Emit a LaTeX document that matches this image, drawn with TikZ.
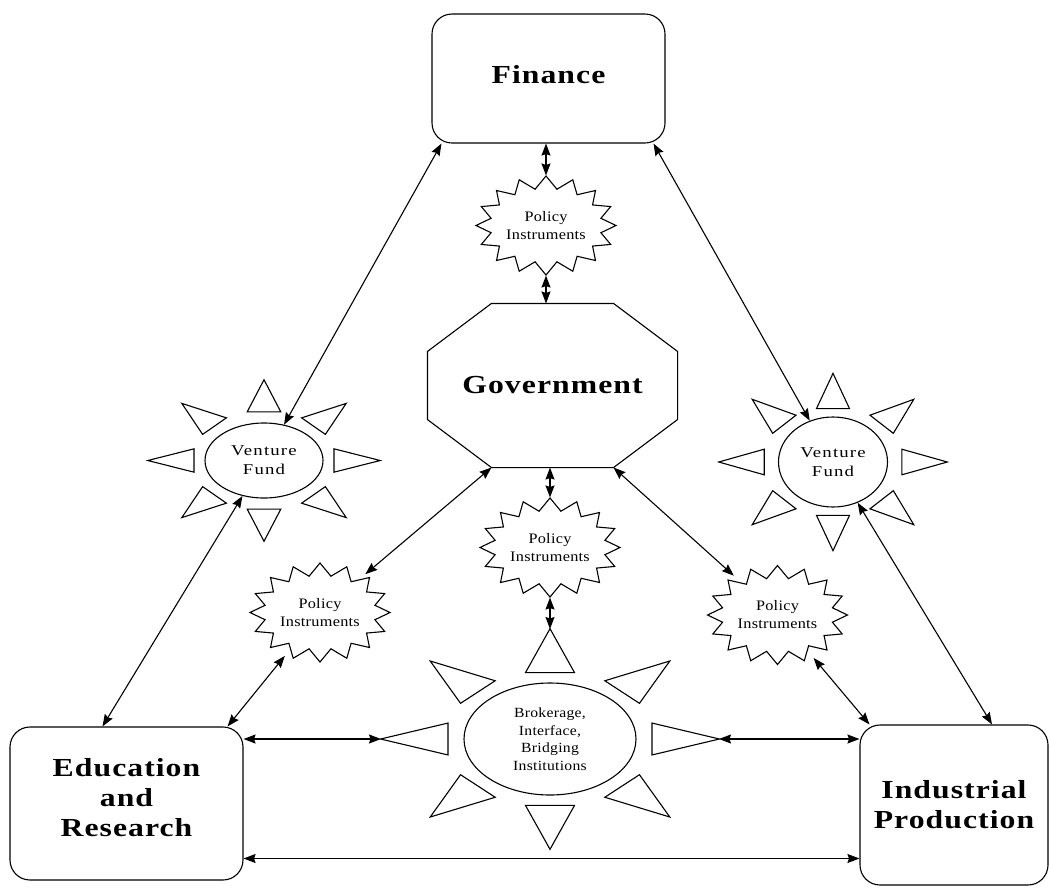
\documentclass[tikz,border=0pt]{standalone}
\usepackage{fontspec}
\setmainfont{Liberation Serif}
\newfontfamily\boxfont[FakeStretch=1.22,LetterSpace=4]{Liberation Serif}
\newfontfamily\policyfont[FakeStretch=1.12,LetterSpace=2]{Liberation Serif}
\newfontfamily\fundfont[FakeStretch=1.25,LetterSpace=8]{Liberation Serif}
\usetikzlibrary{shapes.geometric,arrows.meta}

% eight triangles round an ellipse
\newcommand{\sunrays}[3]{%
  \foreach \a in {0,45,...,315}
    \draw[shift={(#1)}] (\a:{1.97*#2} and {1.97*#3}) -- ({\a+13.5}:{1.22*#2} and {1.22*#3}) -- ({\a-13.5}:{1.22*#2} and {1.22*#3}) -- cycle;}

% sixteen point star
\newcommand{\starburst}[1]{%
  \draw[shift={(#1)}] (0:70 and 49.5)
    \foreach \k in {0,...,15} {-- ({\k*22.5+11.25}:56 and 37) -- ({\k*22.5+22.5}:70 and 49.5)} -- cycle;}

\begin{document}
\begin{tikzpicture}[x=1pt, y=-1pt, line width=1.1pt,
  block/.style={draw, rounded corners=20pt, align=center, font=\boxfont\bfseries\fontsize{26}{30}\selectfont},
  policy/.style={ellipse, minimum width=140pt, minimum height=99pt, inner sep=0pt, align=center, font=\policyfont\fontsize{14.5}{18}\selectfont},
  fund/.style={draw, ellipse, inner sep=0pt, align=center},
  link/.style={{Stealth[length=12pt,width=9pt,inset=1.5pt]}-{Stealth[length=12pt,width=9pt,inset=1.5pt]}}]

\fill[white] (0,0) rectangle (1050,887);
\useasboundingbox (0,0) rectangle (1050,887);

% Boxes
\node[block, minimum width=233pt, minimum height=129pt] (fin) at (548.5,78.5) {Finance\\[-22pt]};
\node[block, minimum width=233pt, minimum height=153pt] (edu) at (126.5,803.5) {Education\\and\\Research\\[-18pt]};
\node[block, minimum width=188pt, minimum height=160pt] (ind) at (954,805) {Industrial\\Production};

% Government
\node[minimum width=249pt, minimum height=163pt, font=\boxfont\bfseries\fontsize{26}{30}\selectfont] (gov) at (552.5,385.5) {Government\\[-19pt]};
\draw ([xshift=64pt]gov.north west) -- ([xshift=-64pt]gov.north east) -- ([yshift=-48pt]gov.north east)
  -- ([yshift=48pt]gov.south east) -- ([xshift=-64pt]gov.south east) -- ([xshift=64pt]gov.south west)
  -- ([yshift=48pt]gov.south west) -- ([yshift=-48pt]gov.north west) -- cycle;

% Policy instruments
\node[policy] (pitop) at (546,225.5) {Policy\\Instruments};
\node[policy] (pimid) at (550,547.5) {Policy\\Instruments};
\node[policy] (pileft) at (320,612.5) {Policy\\Instruments};
\node[policy] (piright) at (777.5,615) {Policy\\Instruments};
\starburst{pitop}
\starburst{pimid}
\starburst{pileft}
\starburst{piright}

% Venture funds and brokerage
\node[fund, minimum width=118pt, minimum height=75pt, font=\fundfont\fontsize{15}{19}\selectfont] (vfl) at (264,460.5) {Venture\\Fund};
\node[fund, minimum width=109pt, minimum height=90pt, font=\fundfont\fontsize{15}{19}\selectfont] (vfr) at (833,462) {Venture\\Fund};
\node[fund, minimum width=172pt, minimum height=112pt, font=\policyfont\fontsize{14}{17.5}\selectfont] (bb) at (550,739) {Brokerage,\\Interface,\\Bridging\\Institutions};
\sunrays{vfl}{59}{41}
\sunrays{vfr}{58}{45}
\sunrays{bb}{86}{56}
\coordinate (bbN) at ([yshift=110pt]bb.center);
\coordinate (bbW) at ([xshift=-169pt]bb.center);
\coordinate (bbE) at ([xshift=169pt]bb.center);

% Arrows
\draw[link] (pitop.north |- fin.south) -- (pitop.north);
\draw[link] (pitop.south) -- (pitop.south |- gov.north);
\draw[link] (pimid.north |- gov.south) -- (pimid.north);
\draw[link] (pimid.south) -- (bbN);
\draw[link] ([xshift=10pt]fin.south west) -- (vfl);
\draw[link] (vfl) -- ([xshift=-24pt]edu.north);
\draw[link] ([xshift=-12pt]fin.south east) -- (vfr);
\draw[link] (vfr) -- ([xshift=38pt]ind.north);
\draw[link] ([xshift=64pt]gov.south west) -- (pileft);
\draw[link] (pileft) -- ([xshift=-16pt]edu.north east);
\draw[link] ([xshift=-64pt]gov.south east) -- (piright);
\draw[link] (piright) -- ([xshift=10pt]ind.north west);
\draw[link] (bbW -| edu.east) -- (bbW);
\draw[link] (bbE) -- (bbE -| ind.west);
\draw[link] ([yshift=-55pt]edu.east) -- ([yshift=-55pt]edu.east -| ind.west);

\end{tikzpicture}
\end{document}
